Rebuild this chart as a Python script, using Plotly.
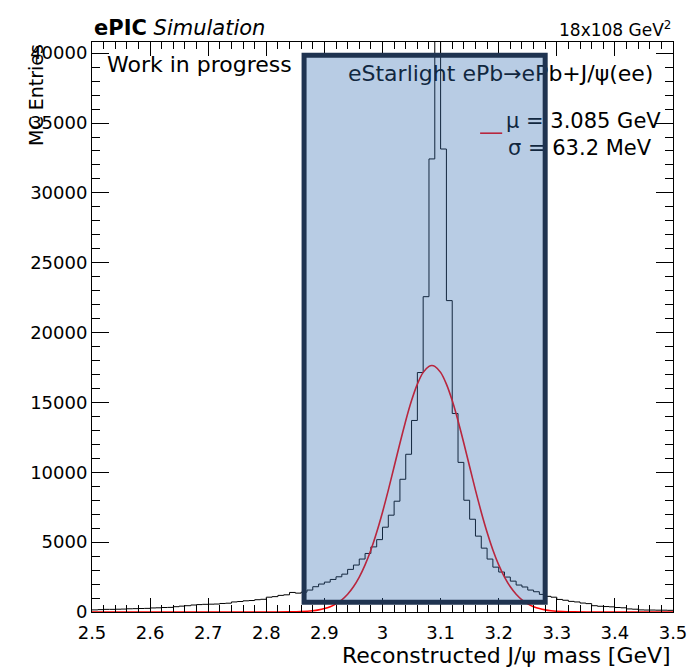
import numpy as np
import plotly.graph_objects as go

FONT = "DejaVu Sans"

# ---- data -------------------------------------------------------------
BIN_LO, BIN_HI, N_BINS = 2.5, 3.5, 100
HIST_COUNTS = [
    150, 170, 190, 190, 200, 210, 230, 240, 250, 260,          # 2.50-2.59
    290, 300, 320, 330, 380, 420, 450, 500, 530, 550,          # 2.60-2.69
    560, 570, 610, 630, 720, 750, 800, 820, 880, 910,          # 2.70-2.79
    1060, 1100, 1190, 1230, 1400, 1350, 1420, 1570, 1810, 2000,  # 2.80-2.89
    2140, 2330, 2520, 2710, 3050, 3360, 3790, 4190, 4660, 5180,  # 2.90-2.99
    6070, 6930, 7930, 9500, 11290, 13710, 17140, 22570, 32430, 45000,  # 3.00-3.09
    33140, 22290, 14210, 10710, 8000, 6640, 5430, 4570, 3790, 3210,   # 3.10-3.19
    2860, 2500, 2210, 1930, 1790, 1570, 1450, 1260, 1120, 1060,  # 3.20-3.29
    900, 840, 760, 720, 640, 600, 450, 410, 390, 370,          # 3.30-3.39
    320, 300, 220, 200, 150, 140, 140, 130, 130, 120,          # 3.40-3.49
]

FIT_X = [2.50, 2.80, 2.84, 2.86, 2.88, 2.89, 2.90, 2.91, 2.92, 2.93, 2.94, 2.95,
         2.96, 2.97, 2.98, 2.99, 3.00, 3.01, 3.02, 3.03, 3.04, 3.05, 3.06, 3.07,
         3.08, 3.085, 3.09, 3.10, 3.11, 3.12, 3.13, 3.14, 3.15, 3.16, 3.17, 3.18,
         3.19, 3.20, 3.21, 3.22, 3.23, 3.24, 3.25, 3.26, 3.27, 3.28, 3.29, 3.31,
         3.33, 3.37, 3.50]
FIT_Y = [0, 1, 9, 31, 92, 151, 244, 382, 583, 872, 1268, 1803,
         2494, 3369, 4438, 5702, 7139, 8725, 10394, 12080, 13690, 15133, 16313, 17150,
         17585, 17640, 17585, 17150, 16313, 15133, 13690, 12080, 10394, 8725, 7139, 5702,
         4438, 3369, 2494, 1803, 1268, 872, 583, 382, 244, 151, 92, 31,
         9, 1, 0]

X_TICKS = [2.5, 2.6, 2.7, 2.8, 2.9, 3.0, 3.1, 3.2, 3.3, 3.4, 3.5]
X_TICK_TEXT = ["2.5", "2.6", "2.7", "2.8", "2.9", "3", "3.1", "3.2", "3.3", "3.4", "3.5"]
X_MINOR = 0.02
Y_TICK_STEP, Y_MINOR = 5000, 1000
Y_MAX = 40800

BOX_X = [2.865, 3.28]
BOX_Y = [700, 39860]

TEXT_LABELS = ["Work in progress",
               "eStarlight ePb\u2192ePb+J/\u03c8(ee)",
               "\u03bc = 3.085 GeV",
               "\u03c3 = 63.2 MeV"]
TEXT_X = [2.5258, 2.9406, 3.2126, 3.2160]
TEXT_Y = [39080, 38437, 35035, 33066]
TEXT_SIZES = [22, 22, 21, 21]

# ---- figure -----------------------------------------------------------
assert len(HIST_COUNTS) == N_BINS
edges = np.linspace(BIN_LO, BIN_HI, N_BINS + 1)
x_step = list(edges[:-1]) + [edges[-1]]
y_step = HIST_COUNTS + [HIST_COUNTS[-1]]

fig = go.Figure()
fig.add_trace(go.Scatter(
    x=x_step, y=y_step, mode="lines",
    line=dict(color="black", width=1, shape="hv"),
    hoverinfo="skip", showlegend=False))
fig.add_trace(go.Scatter(
    x=FIT_X, y=FIT_Y, mode="lines",
    line=dict(color="#ff0000", width=1.6, shape="spline", smoothing=0.6),
    hoverinfo="skip", showlegend=False))
for t, x, y, s in zip(TEXT_LABELS, TEXT_X, TEXT_Y, TEXT_SIZES):
    fig.add_trace(go.Scatter(
        x=[x], y=[y], mode="text", text=[t], textposition="middle right",
        textfont=dict(family=FONT, size=s, color="black"),
        cliponaxis=False, hoverinfo="skip", showlegend=False))

# legend line sample (below the box so it gets tinted)
fig.add_shape(type="line", xref="paper", yref="paper",
              x0=0.668, x1=0.706, y0=0.840, y1=0.840,
              line=dict(color="#ff0000", width=1.6), layer="above")
# translucent highlight box
fig.add_shape(type="rect", xref="x", yref="y",
              x0=BOX_X[0], x1=BOX_X[1], y0=BOX_Y[0], y1=BOX_Y[1],
              fillcolor="rgba(52,109,178,0.35)",
              line=dict(color="#1f3350", width=5), layer="above")

axis_common = dict(
    showline=True, linecolor="black", linewidth=1, mirror="allticks",
    ticks="inside", tickcolor="black", tickwidth=1,
    showgrid=False, zeroline=False, automargin=False,
    tickfont=dict(family=FONT, size=18, color="black"),
)
fig.update_xaxes(range=[BIN_LO, BIN_HI], tickmode="array",
                 tickvals=X_TICKS, ticktext=X_TICK_TEXT,
                 ticklabeloverflow="allow",
                 ticklen=14, ticklabelstandoff=4,
                 minor=dict(tickmode="linear", tick0=BIN_LO, dtick=X_MINOR,
                            ticklen=7, ticks="inside",
                            tickcolor="black", tickwidth=1),
                 **axis_common)
fig.update_yaxes(range=[0, Y_MAX], tick0=0, dtick=Y_TICK_STEP, tickformat="d",
                 ticklen=17,
                 minor=dict(dtick=Y_MINOR, ticklen=8, ticks="inside",
                            tickcolor="black", tickwidth=1),
                 **axis_common)

annos = [
    dict(text="<b>ePIC</b> <i>Simulation</i>", x=0.0, y=1.0246,
         xanchor="left", yanchor="middle", font=dict(size=21)),
    dict(text="18x108 GeV<sup>2</sup>", x=1.0, y=1.022,
         xanchor="right", yanchor="middle", font=dict(size=17)),
    dict(text="Reconstructed J/\u03c8 mass [GeV]", x=1.0, y=-0.076,
         xanchor="right", yanchor="middle", font=dict(size=22)),
    dict(text="MC Entries", x=-0.0964, y=1.0, textangle=-90,
         xanchor="center", yanchor="top", font=dict(size=19)),
]
for a in annos:
    a["font"].update(family=FONT, color="black")
    fig.add_annotation(xref="paper", yref="paper", showarrow=False, **a)

fig.update_layout(
    width=687, height=671,
    margin=dict(l=92, r=14, t=42, b=59, autoexpand=False),
    paper_bgcolor="white", plot_bgcolor="white",
    font=dict(family=FONT, color="black"),
    showlegend=False,
)

fig.write_html(
    "out.html",
    config={"displayModeBar": False},
    post_script="document.body.style.margin='0';document.body.style.overflow='hidden';",
)
